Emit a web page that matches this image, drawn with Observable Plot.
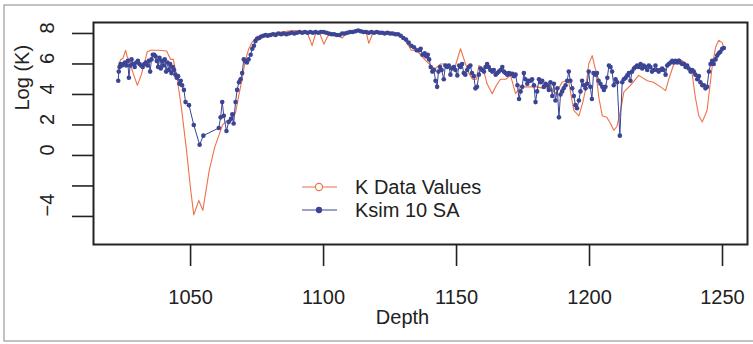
<!DOCTYPE html>
<html>
<head>
<meta charset="utf-8">
<script src="https://cdn.jsdelivr.net/npm/d3@7"></script>
<script src="https://cdn.jsdelivr.net/npm/@observablehq/plot@0.6"></script>
<style>
  html, body { margin: 0; padding: 0; background: #fff; }
  #chart { width: 753px; height: 344px; }
</style>
</head>
<body>
<div id="chart"></div>
<script>
// ---- Data ----
const kDepth = [1022.8,1023.7,1024.5,1025.6,1026.2,1026.8,1028.4,1030.0,1031.5,1033.0,1033.7,1035.0,1038.0,1041.0,1042.5,1043.5,1045.0,1046.5,1048.5,1050.0,1051.2,1053.1,1054.6,1057.0,1059.0,1060.6,1062.0,1063.8,1065.0,1066.9,1068.2,1069.4,1070.5,1071.9,1073.0,1075.0,1078.0,1082.0,1086.0,1089.0,1092.0,1094.0,1095.7,1097.0,1098.5,1100.1,1101.5,1103.0,1105.0,1107.0,1108.5,1111.0,1114.0,1116.0,1117.0,1118.5,1121.0,1125.0,1128.0,1130.0,1132.0,1133.0,1134.6,1136.0,1138.0,1140.9,1142.0,1144.0,1146.0,1147.5,1149.6,1151.5,1153.0,1154.6,1156.0,1157.5,1158.4,1160.0,1161.5,1163.4,1165.0,1166.5,1168.5,1170.3,1172.2,1174.0,1177.8,1180.0,1183.0,1185.3,1187.2,1189.7,1191.0,1192.2,1194.1,1196.0,1197.5,1198.5,1199.7,1201.0,1202.3,1203.5,1204.8,1206.5,1207.9,1209.1,1210.3,1211.7,1212.9,1215.4,1218.5,1221.7,1224.0,1226.7,1228.6,1229.8,1231.7,1233.6,1236.0,1238.6,1239.8,1241.1,1242.4,1244.2,1246.1,1247.4,1248.6,1249.9,1250.5];
const kLogK = [5.8,6.3,6.35,6.9,6.45,6.3,5.4,4.6,5.3,6.3,6.8,6.9,6.9,6.85,6.3,6.3,5.0,3.2,0.3,-2.2,-3.9,-2.95,-3.6,-1.0,0.5,1.3,2.0,2.3,2.2,2.8,4.0,5.0,6.2,7.0,7.4,7.8,7.95,8.05,8.15,8.2,8.1,8.0,7.2,8.0,8.05,7.3,7.8,8.05,7.9,7.7,8.0,8.1,8.2,8.1,7.35,8.0,8.1,8.1,7.95,7.7,7.2,6.9,6.9,6.7,6.3,5.8,5.7,6.0,6.0,5.8,5.9,7.0,6.2,5.4,5.0,5.0,5.9,5.7,4.7,4.05,4.6,5.0,5.0,5.25,4.05,4.5,4.5,4.5,4.4,4.5,4.05,4.8,4.9,4.8,2.95,2.6,3.5,4.3,6.0,6.55,5.6,3.8,2.6,2.5,2.1,1.65,1.9,2.95,4.15,4.6,5.25,4.9,4.8,4.5,4.25,5.0,6.0,6.35,6.1,5.35,3.8,2.6,2.2,2.95,5.8,7.1,7.55,7.4,7.0];

const simDepth = [1022.8,1023.0,1023.3,1023.7,1024.2,1024.8,1025.3,1025.8,1026.4,1026.8,1027.3,1027.8,1028.4,1029.0,1029.6,1030.2,1030.8,1031.4,1032.0,1032.6,1033.2,1033.8,1034.3,1034.8,1035.3,1035.8,1036.3,1036.8,1037.3,1037.8,1038.3,1038.8,1039.3,1039.8,1040.3,1040.8,1041.3,1041.8,1042.3,1042.8,1043.3,1043.8,1044.3,1044.8,1045.3,1045.8,1046.3,1046.8,1047.5,1048.1,1049.4,1051.2,1053.4,1054.8,1060.6,1061.3,1061.9,1062.5,1063.5,1064.3,1065.2,1065.7,1066.2,1066.9,1067.5,1068.2,1068.8,1069.4,1070.0,1070.6,1071.2,1071.8,1072.6,1073.2,1073.8,1074.4,1075.0,1075.8,1076.6,1077.4,1078.2,1079,1080,1081,1082,1083,1084,1085,1086,1087,1088,1089,1090,1091,1092,1093,1094,1095,1096,1097,1098,1099,1100,1101,1102,1103,1104,1105,1106,1107,1108,1109,1110,1111,1112,1113,1114,1115,1116,1117,1118,1119,1120,1121,1122,1123,1124,1125,1126,1127,1128,1129,1130,1131,1132,1133,1134,1135,1136,1136.5,1137.2,1138.0,1138.6,1139.2,1139.7,1140.3,1140.9,1141.5,1142.1,1142.7,1143.2,1143.8,1144.4,1145.2,1145.8,1146.5,1147.1,1147.7,1148.3,1149.0,1149.6,1150.3,1151.0,1151.5,1152.1,1152.7,1153.3,1154.0,1154.6,1155.2,1155.8,1156.5,1157.1,1157.7,1158.4,1159.0,1159.6,1160.3,1160.9,1161.5,1162.1,1162.7,1163.4,1164.0,1164.7,1165.3,1165.9,1166.6,1167.2,1167.8,1168.4,1169.1,1169.7,1170.3,1171.0,1171.6,1172.2,1172.9,1173.5,1174.1,1174.7,1175.3,1175.9,1176.6,1177.2,1177.8,1178.4,1179.1,1179.7,1180.3,1181.0,1181.6,1182.2,1182.8,1183.5,1184.1,1184.7,1185.3,1186.0,1186.6,1187.2,1187.9,1188.5,1189.1,1189.7,1190.3,1191.0,1191.6,1192.2,1192.8,1193.5,1194.1,1194.7,1195.3,1196.0,1196.6,1197.2,1197.9,1198.5,1199.1,1199.7,1200.3,1200.9,1201.5,1202.2,1202.8,1203.4,1204.1,1204.8,1205.4,1206.0,1206.7,1207.3,1207.9,1208.5,1209.1,1209.8,1210.4,1211.4,1212.3,1212.9,1213.6,1214.2,1214.8,1215.4,1216.0,1216.7,1217.3,1217.9,1218.5,1219.2,1219.8,1220.4,1221.0,1221.7,1222.3,1222.9,1223.5,1224.2,1224.8,1225.4,1226.0,1226.7,1227.3,1227.9,1228.6,1229.2,1229.8,1230.5,1231.1,1231.7,1232.3,1233.0,1233.6,1234.2,1234.8,1235.5,1236.1,1236.7,1237.3,1238.0,1238.6,1239.2,1239.8,1240.5,1241.1,1241.7,1242.4,1243.0,1243.6,1244.2,1244.9,1245.5,1246.1,1246.7,1247.4,1248.0,1248.6,1249.2,1249.9,1250.5];
const simLogK = [4.9,5.5,5.8,6.0,5.9,6.0,6.1,5.9,6.2,5.1,5.9,6.3,6.0,5.8,6.1,6.2,6.0,5.9,5.8,6.0,6.1,5.9,6.2,5.5,6.3,6.6,6.6,6.5,6.2,5.8,6.4,5.7,6.2,5.9,6.3,5.5,6.1,5.6,6.0,5.4,5.8,5.6,5.3,5.1,5.2,4.7,4.9,4.6,4.3,3.5,3.3,2.0,0.7,1.3,1.8,2.5,3.5,2.6,1.6,2.2,2.4,2.7,2.1,3.5,4.3,4.8,5.0,5.4,6.3,6.2,6.1,6.3,6.6,7.0,7.2,7.5,7.65,7.7,7.8,7.85,7.9,7.85,7.9,7.95,7.9,8.0,7.95,8.0,7.95,8.0,8.05,8.0,8.05,8.1,8.05,8.1,8.05,8.1,8.05,8.1,8.05,8.1,8.1,8.05,8.0,7.95,7.95,7.9,7.9,8.0,8.0,8.05,8.1,8.1,8.15,8.2,8.15,8.1,8.1,8.05,8.1,8.05,8.1,8.05,8.05,8.0,8.05,8.0,8.0,7.95,7.95,7.85,7.7,7.6,7.4,7.2,7.1,6.9,6.9,7.0,6.6,6.7,6.5,6.6,6.3,5.8,5.5,5.6,4.9,4.5,5.5,5.8,5.6,5.0,5.9,5.8,5.9,5.3,5.7,5.8,5.6,5.25,5.9,5.8,6.0,5.4,5.3,5.6,5.8,5.9,5.4,5.2,4.4,4.5,5.3,5.7,5.6,5.5,5.8,6.0,5.8,5.6,5.5,5.6,5.3,5.4,5.5,5.6,5.8,5.5,5.4,5.3,5.4,5.35,5.35,5.2,5.3,4.6,3.7,4.2,4.5,5.4,5.0,4.7,4.9,4.9,5.0,4.6,3.5,4.2,5.0,4.8,4.9,4.5,4.7,4.6,4.3,4.8,3.9,4.7,3.6,4.4,2.5,4.0,4.2,4.4,4.6,4.9,5.5,4.9,4.4,3.9,3.3,3.1,3.6,4.2,4.9,4.6,4.4,4.7,5.5,4.5,3.7,5.4,5.3,5.4,4.9,4.7,4.5,4.3,4.5,5.1,5.9,5.8,5.5,4.6,5.0,4.8,1.3,4.8,5.0,5.1,5.25,5.4,4.9,5.5,5.7,5.8,5.9,5.8,6.0,5.7,5.9,5.8,5.6,5.9,5.8,5.5,5.6,5.9,5.6,5.5,5.6,5.7,5.6,5.3,5.9,6.0,6.1,6.2,6.1,6.2,6.1,6.2,6.1,6.0,6.0,5.8,5.9,5.7,5.5,5.6,5.5,5.3,5.0,5.2,4.8,4.6,4.6,4.4,4.5,5.5,6.0,6.2,6.0,6.3,6.55,6.7,6.8,7.0,7.05];

const xTicks = [1050, 1100, 1150, 1200, 1250];
const yTicks = [-4, -2, 0, 2, 4, 6, 8];
const yTickLabels = ["\u22124", "", "0", "2", "4", "6", "8"];
const seriesNames = ["K Data Values", "Ksim 10 SA"];

// ---- Build tables ----
const kData = kDepth.map((d, i) => ({depth: d, logK: kLogK[i]}));
const simData = simDepth.map((d, i) => ({depth: d, logK: simLogK[i]}));

const orange = "#EE7248";
const blue = "#3C4494";
const ink = "#222";
const font = "'Liberation Sans', Arial, Helvetica, sans-serif";

const chart = Plot.plot({
  width: 753,
  height: 344,
  marginLeft: 93,
  marginRight: 6,
  marginTop: 22,
  marginBottom: 100,
  style: {fontFamily: font, background: "#fff", color: ink, overflow: "visible"},
  x: {domain: [1013.5, 1259.4]},
  y: {domain: [-5.84, 8.72]},
  marks: [
    Plot.line(kData, {x: "depth", y: "logK", stroke: orange, strokeWidth: 1.1}),
    Plot.line(simData, {x: "depth", y: "logK", stroke: blue, strokeWidth: 1}),
    Plot.dot(simData, {x: "depth", y: "logK", fill: blue, r: 2.3}),
    Plot.frame({stroke: ink, strokeWidth: 2}),
    Plot.axisX({ticks: xTicks, tickSize: 22, tickPadding: 23, fontSize: 20, label: null,
                tickFormat: d => String(d), stroke: ink, strokeWidth: 1.6, fill: ink}),
    Plot.axisY({ticks: yTicks, tickSize: 21, tickFormat: () => "", label: null,
                stroke: ink, strokeWidth: 1.6}),
    Plot.text(yTicks, {y: d => d, text: (d, i) => yTickLabels[i], frameAnchor: "left",
                       dx: -46, rotate: -90, fontSize: 20, fill: ink}),
    Plot.text(["Depth"], {text: d => d, frameAnchor: "bottom", dx: -18, dy: 79, fontSize: 20, fill: ink}),
    Plot.text(["Log (K)"], {text: d => d, frameAnchor: "left", dx: -71, dy: -23, rotate: -90, fontSize: 20, fill: ink})
  ]
});

document.getElementById("chart").appendChild(chart);

// Decorations: outer border and legend
const svg = d3.select(chart);
svg.insert("rect", ":first-child")
  .attr("x", 4).attr("y", 5).attr("width", 770).attr("height", 336)
  .attr("fill", "#fff").attr("stroke", "#999").attr("stroke-width", 1.2);

const legend = svg.append("g").attr("font-family", font).attr("font-size", 20)
  .attr("fill", ink).attr("text-anchor", "start");
const rows = [
  {name: seriesNames[0], color: orange, open: true, y: 187},
  {name: seriesNames[1], color: blue, open: false, y: 210}
];
rows.forEach(r => {
  legend.append("line").attr("x1", 302).attr("x2", 337).attr("y1", r.y).attr("y2", r.y)
    .attr("stroke", r.color).attr("stroke-width", 1.2);
  legend.append("circle").attr("cx", 319).attr("cy", r.y).attr("r", r.open ? 3.6 : 2.6)
    .attr("fill", r.open ? "#fff" : r.color).attr("stroke", r.color).attr("stroke-width", 1.1);
  legend.append("text").attr("x", 355).attr("y", r.y).attr("dy", "0.35em")
    .attr("text-anchor", "start").text(r.name);
});
</script>
</body>
</html>
